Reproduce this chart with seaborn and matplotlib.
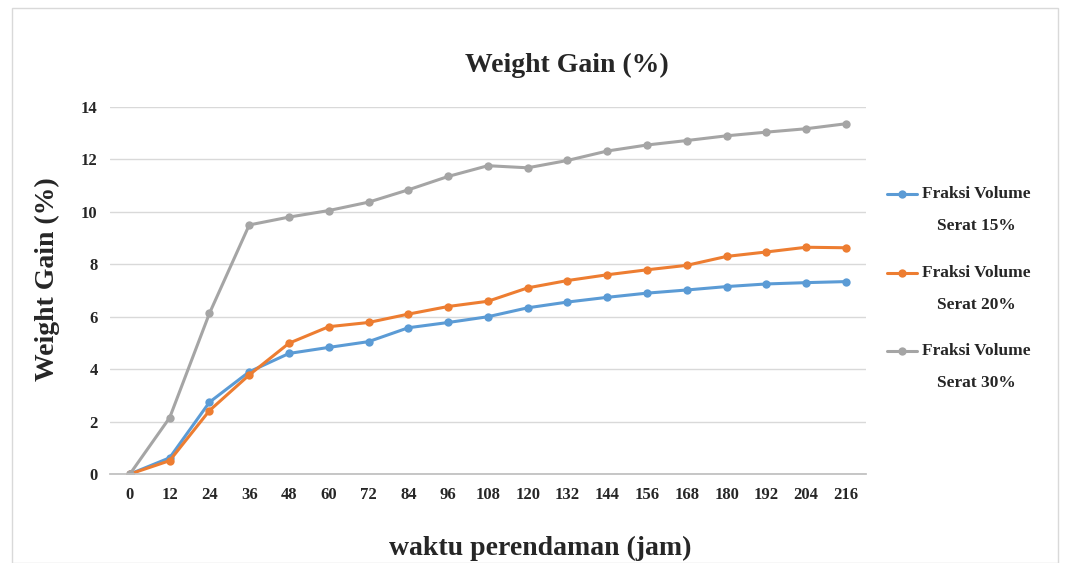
import pandas as pd
import matplotlib
matplotlib.use("Agg")
import matplotlib.pyplot as plt
import seaborn as sns
from matplotlib.patches import Rectangle

# --- Data ---
JAM = [0, 12, 24, 36, 48, 60, 72, 84, 96, 108, 120, 132, 144, 156, 168, 180, 192, 204, 216]
SERAT_15 = [0, 0.62, 2.74, 3.90, 4.60, 4.83, 5.05, 5.58, 5.78, 6.00, 6.34, 6.56, 6.74, 6.90, 7.02, 7.15, 7.25, 7.30, 7.34]
SERAT_20 = [0, 0.51, 2.42, 3.78, 4.99, 5.62, 5.78, 6.10, 6.39, 6.59, 7.10, 7.38, 7.60, 7.79, 7.96, 8.30, 8.47, 8.65, 8.63]
SERAT_30 = [0, 2.15, 6.13, 9.50, 9.80, 10.05, 10.37, 10.84, 11.35, 11.76, 11.68, 11.96, 12.32, 12.55, 12.72, 12.90, 13.04, 13.17, 13.36]
LABELS = ["Fraksi Volume\nSerat 15%", "Fraksi Volume\nSerat 20%", "Fraksi Volume\nSerat 30%"]
COLORS = ["#5B9BD5", "#ED7D31", "#A5A5A5"]


def main():
    sns.set_theme(style="white")
    plt.rcParams["font.family"] = ["Liberation Serif", "DejaVu Serif"]
    plt.rcParams["font.weight"] = "bold"

    frames = []
    for label, vals in zip(LABELS, [SERAT_15, SERAT_20, SERAT_30]):
        frames.append(pd.DataFrame({"jam": JAM, "gain": vals, "seri": label}))
    df = pd.concat(frames, ignore_index=True)

    fig = plt.figure(figsize=(10.66, 5.63), dpi=100)
    ax = fig.add_axes([0.1032, 0.158, 0.709, 0.652])

    sns.lineplot(data=df, x="jam", y="gain", hue="seri", palette=COLORS,
                 marker="o", markersize=6, markeredgewidth=0, linewidth=2.2,
                 ax=ax)

    ax.set_xlim(-6, 222)
    ax.set_ylim(0, 14)
    ax.set_xticks(JAM)
    ax.set_yticks(range(0, 15, 2))
    ax.grid(axis="y", color="#D9D9D9", linewidth=1)
    ax.set_axisbelow(True)
    for side in ["left", "right", "top"]:
        ax.spines[side].set_visible(False)
    ax.spines["bottom"].set_color("#BFBFBF")
    ax.tick_params(axis="both", length=0, labelsize=12, pad=9)
    for t in ax.get_xticklabels() + ax.get_yticklabels():
        t.set_fontweight("bold")

    # title centred over the whole chart area (spreadsheet style)
    fig.text(0.532, 0.883, "Weight Gain (%)", fontsize=20, fontweight="bold",
             ha="center", va="center")
    ax.set_xlabel("waktu perendaman (jam)", fontsize=20, fontweight="bold")
    ax.set_ylabel("Weight Gain (%)", fontsize=20, fontweight="bold")
    ax.xaxis.set_label_coords(0.569, -0.169)
    ax.yaxis.set_label_coords(-0.066, 0.531)

    leg = ax.legend(loc="upper left", bbox_to_anchor=(1.007, 0.827), frameon=False,
                    fontsize=12.5, labelspacing=1.75, handlelength=1.75,
                    handletextpad=0.3)
    for t in leg.get_texts():
        t.set_multialignment("center")
        t.set_fontweight("bold")
        t.set_linespacing(2.35)
    # put the legend key next to the first text line, like the reference
    for h in leg.legend_handles:
        h.set_ydata([y + 11.5 for y in h.get_ydata()])

    # chart frame like the spreadsheet chart area
    fig.patches.append(Rectangle((12 / 1066, 0), 1046 / 1066, 1 - 8 / 563,
                                 transform=fig.transFigure, fill=False,
                                 edgecolor="#D9D9D9", linewidth=1))

    fig.savefig("out.png", dpi=100)
    plt.close(fig)


if __name__ == "__main__":
    main()
